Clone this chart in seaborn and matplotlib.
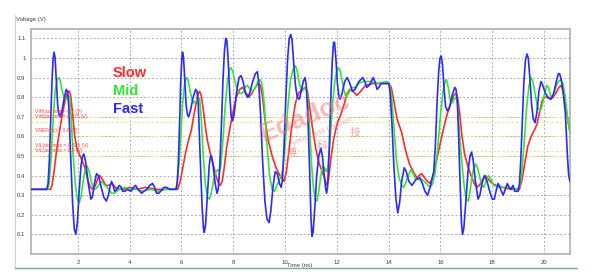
import matplotlib
matplotlib.use("Agg")
import matplotlib.pyplot as plt
import seaborn as sns
import pandas as pd
from matplotlib.lines import Line2D

# ---------------- data: (time ns, voltage V) ----------------
fast_points = [
    (0.2, 0.33), (0.8, 0.33), (0.85, 0.36), (0.9, 0.48), (0.95, 0.68), (1.0, 0.88), (1.04, 0.99),
    (1.08, 1.03), (1.12, 1.0), (1.17, 0.88), (1.22, 0.76), (1.27, 0.71), (1.32, 0.70), (1.4, 0.74),
    (1.48, 0.80), (1.55, 0.84), (1.6, 0.83), (1.65, 0.75), (1.72, 0.50), (1.8, 0.25), (1.86, 0.13),
    (1.92, 0.10), (1.98, 0.16), (2.05, 0.32), (2.12, 0.45), (2.18, 0.50), (2.23, 0.51), (2.3, 0.47),
    (2.4, 0.36), (2.5, 0.28), (2.56, 0.29), (2.64, 0.36), (2.72, 0.41), (2.8, 0.40), (2.9, 0.34),
    (3.0, 0.29), (3.1, 0.27), (3.18, 0.30), (3.25, 0.35), (3.3, 0.37), (3.36, 0.35), (3.42, 0.32),
    (3.5, 0.33), (3.6, 0.35), (3.67, 0.34), (3.73, 0.32), (3.82, 0.32), (3.9, 0.33), (4.05, 0.32),
    (4.15, 0.34), (4.23, 0.35), (4.32, 0.33), (4.46, 0.31), (4.55, 0.32), (4.65, 0.33), (4.78, 0.35),
    (4.88, 0.36), (4.96, 0.34), (5.04, 0.31), (5.12, 0.31), (5.2, 0.32), (5.32, 0.34), (5.42, 0.34),
    (5.55, 0.33), (5.8, 0.33), (5.84, 0.37), (5.88, 0.47), (5.93, 0.68), (5.97, 0.88), (6.01, 0.99),
    (6.04, 1.03), (6.08, 1.0), (6.13, 0.88), (6.18, 0.76), (6.23, 0.71), (6.28, 0.70), (6.36, 0.74),
    (6.45, 0.80), (6.55, 0.84), (6.6, 0.83), (6.65, 0.76), (6.72, 0.50), (6.8, 0.23), (6.85, 0.13),
    (6.88, 0.11), (6.93, 0.15), (7.0, 0.30), (7.07, 0.45), (7.12, 0.50), (7.16, 0.50), (7.22, 0.45),
    (7.3, 0.36), (7.37, 0.31), (7.42, 0.33), (7.48, 0.45), (7.54, 0.65), (7.6, 0.88), (7.66, 1.04),
    (7.71, 1.10), (7.75, 1.09), (7.8, 1.0), (7.86, 0.82), (7.92, 0.70), (7.97, 0.68), (8.03, 0.71),
    (8.12, 0.82), (8.22, 0.90), (8.3, 0.91), (8.38, 0.88), (8.47, 0.82), (8.55, 0.80), (8.63, 0.82),
    (8.75, 0.88), (8.85, 0.92), (8.93, 0.93), (8.98, 0.88), (9.05, 0.72), (9.13, 0.48), (9.22, 0.27),
    (9.3, 0.18), (9.38, 0.16), (9.45, 0.22), (9.53, 0.34), (9.62, 0.42), (9.7, 0.41), (9.78, 0.36),
    (9.85, 0.34), (9.9, 0.38), (9.96, 0.55), (10.03, 0.80), (10.1, 1.0), (10.16, 1.1), (10.22, 1.12),
    (10.27, 1.09), (10.33, 0.98), (10.4, 0.86), (10.47, 0.80), (10.55, 0.79), (10.62, 0.83),
    (10.7, 0.88), (10.77, 0.90), (10.82, 0.86), (10.88, 0.70), (10.95, 0.42), (11.0, 0.18),
    (11.04, 0.09), (11.08, 0.11), (11.15, 0.24), (11.22, 0.40), (11.3, 0.50), (11.38, 0.54),
    (11.44, 0.50), (11.5, 0.42), (11.56, 0.34), (11.6, 0.31), (11.64, 0.34), (11.7, 0.52),
    (11.76, 0.78), (11.82, 0.98), (11.87, 1.08), (11.91, 1.08), (11.96, 1.0), (12.02, 0.87),
    (12.08, 0.80), (12.13, 0.79), (12.2, 0.82), (12.3, 0.88), (12.4, 0.90), (12.5, 0.87), (12.6, 0.83),
    (12.7, 0.84), (12.85, 0.88), (13.0, 0.90), (13.08, 0.88), (13.15, 0.85), (13.25, 0.86), (13.4, 0.90),
    (13.47, 0.88), (13.55, 0.84), (13.62, 0.85), (13.7, 0.87), (13.85, 0.87), (14.0, 0.87), (14.05, 0.83),
    (14.12, 0.68), (14.2, 0.45), (14.28, 0.28), (14.35, 0.21), (14.42, 0.26), (14.5, 0.37), (14.6, 0.44),
    (14.68, 0.42), (14.78, 0.37), (14.9, 0.35), (15.05, 0.38), (15.2, 0.39), (15.3, 0.36), (15.4, 0.32),
    (15.5, 0.30), (15.6, 0.34), (15.68, 0.39), (15.74, 0.42), (15.8, 0.55), (15.87, 0.78), (15.93, 0.93),
    (15.98, 1.0), (16.03, 1.01), (16.08, 0.96), (16.14, 0.84), (16.2, 0.75), (16.27, 0.73), (16.35, 0.75),
    (16.45, 0.81), (16.55, 0.85), (16.6, 0.84), (16.65, 0.78), (16.7, 0.60), (16.76, 0.35), (16.81, 0.16),
    (16.85, 0.10), (16.9, 0.13), (16.98, 0.27), (17.06, 0.42), (17.14, 0.50), (17.2, 0.52), (17.26, 0.48),
    (17.34, 0.38), (17.45, 0.28), (17.52, 0.30), (17.6, 0.36), (17.7, 0.40), (17.8, 0.37), (17.92, 0.31),
    (18.0, 0.28), (18.08, 0.28), (18.16, 0.33), (18.23, 0.36), (18.32, 0.33), (18.42, 0.30), (18.5, 0.33),
    (18.58, 0.36), (18.65, 0.34), (18.72, 0.33), (18.8, 0.35), (18.87, 0.32), (19.0, 0.32), (19.05, 0.36),
    (19.1, 0.48), (19.16, 0.68), (19.22, 0.88), (19.28, 0.99), (19.34, 1.02), (19.39, 1.0), (19.45, 0.90),
    (19.52, 0.76), (19.58, 0.69), (19.65, 0.67), (19.72, 0.72), (19.8, 0.83), (19.88, 0.88), (19.95, 0.86),
    (20.05, 0.82), (20.15, 0.80), (20.27, 0.79), (20.37, 0.82), (20.47, 0.88), (20.55, 0.92), (20.6, 0.92),
    (20.66, 0.89), (20.74, 0.82), (20.82, 0.72), (20.9, 0.50), (20.95, 0.40), (21.0, 0.37),
]

mid_points = [
    (0.2, 0.33), (0.85, 0.33), (0.9, 0.37), (0.97, 0.50), (1.05, 0.70), (1.12, 0.83), (1.2, 0.89),
    (1.27, 0.90), (1.33, 0.88), (1.4, 0.83), (1.48, 0.79), (1.55, 0.79), (1.62, 0.81), (1.68, 0.80),
    (1.74, 0.70), (1.82, 0.50), (1.9, 0.36), (1.98, 0.28), (2.05, 0.26), (2.12, 0.29), (2.2, 0.37),
    (2.28, 0.43), (2.35, 0.45), (2.42, 0.43), (2.5, 0.38), (2.58, 0.34), (2.65, 0.33), (2.75, 0.34),
    (2.85, 0.36), (2.92, 0.37), (3.05, 0.35), (3.2, 0.33), (3.3, 0.31), (3.4, 0.31), (3.5, 0.32),
    (3.6, 0.33), (3.8, 0.34), (4.0, 0.33), (4.3, 0.33), (4.5, 0.32), (4.8, 0.33), (5.1, 0.32),
    (5.4, 0.33), (5.75, 0.33), (5.82, 0.35), (5.9, 0.45), (5.98, 0.62), (6.05, 0.78), (6.12, 0.87),
    (6.19, 0.90), (6.25, 0.89), (6.32, 0.84), (6.4, 0.79), (6.48, 0.77), (6.56, 0.78), (6.65, 0.80),
    (6.7, 0.79), (6.76, 0.70), (6.84, 0.50), (6.92, 0.36), (7.0, 0.29), (7.08, 0.28), (7.15, 0.31),
    (7.25, 0.38), (7.33, 0.42), (7.4, 0.43), (7.47, 0.42), (7.52, 0.45), (7.6, 0.58), (7.68, 0.74),
    (7.77, 0.88), (7.85, 0.94), (7.92, 0.95), (7.98, 0.93), (8.05, 0.89), (8.15, 0.84), (8.25, 0.82),
    (8.35, 0.82), (8.45, 0.85), (8.55, 0.86), (8.65, 0.84), (8.75, 0.83), (8.85, 0.85), (8.95, 0.88),
    (9.05, 0.89), (9.12, 0.86), (9.2, 0.76), (9.3, 0.56), (9.4, 0.40), (9.5, 0.33), (9.58, 0.32),
    (9.65, 0.34), (9.75, 0.37), (9.85, 0.40), (9.92, 0.44), (10.0, 0.55), (10.1, 0.74), (10.2, 0.88),
    (10.3, 0.94), (10.4, 0.96), (10.46, 0.94), (10.55, 0.87), (10.65, 0.83), (10.72, 0.84), (10.8, 0.85),
    (10.86, 0.81), (10.94, 0.66), (11.02, 0.46), (11.1, 0.33), (11.17, 0.28), (11.23, 0.27), (11.3, 0.32),
    (11.38, 0.40), (11.45, 0.45), (11.52, 0.44), (11.6, 0.42), (11.66, 0.45), (11.74, 0.58), (11.83, 0.76),
    (11.92, 0.88), (12.0, 0.94), (12.08, 0.95), (12.15, 0.92), (12.25, 0.85), (12.35, 0.80), (12.45, 0.82),
    (12.58, 0.85), (12.7, 0.85), (12.85, 0.87), (13.0, 0.88), (13.3, 0.88), (13.6, 0.87), (13.9, 0.88),
    (14.02, 0.87), (14.1, 0.82), (14.2, 0.65), (14.3, 0.48), (14.4, 0.39), (14.5, 0.35), (14.58, 0.34),
    (14.65, 0.36), (14.75, 0.40), (14.85, 0.43), (14.95, 0.41), (15.05, 0.38), (15.15, 0.38), (15.3, 0.38),
    (15.45, 0.36), (15.6, 0.34), (15.7, 0.36), (15.8, 0.42), (15.9, 0.55), (16.0, 0.71), (16.1, 0.83),
    (16.18, 0.88), (16.23, 0.89), (16.3, 0.85), (16.38, 0.78), (16.45, 0.77), (16.53, 0.79), (16.6, 0.80),
    (16.66, 0.76), (16.74, 0.60), (16.84, 0.44), (16.93, 0.33), (17.0, 0.28), (17.08, 0.27), (17.15, 0.33),
    (17.25, 0.42), (17.35, 0.46), (17.43, 0.44), (17.52, 0.39), (17.6, 0.35), (17.67, 0.34), (17.75, 0.37),
    (17.85, 0.40), (17.95, 0.38), (18.05, 0.35), (18.3, 0.34), (18.6, 0.34), (18.9, 0.33), (19.05, 0.34),
    (19.13, 0.40), (19.22, 0.55), (19.32, 0.74), (19.42, 0.86), (19.5, 0.90), (19.57, 0.88), (19.66, 0.81),
    (19.75, 0.75), (19.85, 0.73), (19.93, 0.76), (20.02, 0.82), (20.1, 0.86), (20.17, 0.85), (20.27, 0.80),
    (20.35, 0.81), (20.45, 0.85), (20.55, 0.88), (20.65, 0.89), (20.73, 0.87), (20.82, 0.80), (20.9, 0.70),
    (21.0, 0.62),
]

slow_points = [
    (0.2, 0.33), (0.95, 0.33), (1.0, 0.35), (1.08, 0.42), (1.17, 0.52), (1.27, 0.61), (1.37, 0.69),
    (1.47, 0.76), (1.56, 0.81), (1.63, 0.83), (1.68, 0.83), (1.73, 0.80), (1.8, 0.71), (1.88, 0.60),
    (1.96, 0.54), (2.05, 0.51), (2.15, 0.48), (2.27, 0.44), (2.38, 0.38), (2.48, 0.34), (2.58, 0.33),
    (2.68, 0.35), (2.78, 0.39), (2.85, 0.40), (2.95, 0.38), (3.08, 0.35), (3.2, 0.35), (3.32, 0.36),
    (3.45, 0.34), (3.6, 0.33), (3.75, 0.33), (4.0, 0.34), (4.3, 0.33), (4.6, 0.34), (5.0, 0.33),
    (5.4, 0.33), (5.85, 0.33), (5.95, 0.37), (6.05, 0.44), (6.15, 0.51), (6.25, 0.57), (6.38, 0.63),
    (6.48, 0.71), (6.58, 0.78), (6.65, 0.82), (6.7, 0.83), (6.76, 0.81), (6.84, 0.74), (6.92, 0.65),
    (7.0, 0.58), (7.1, 0.52), (7.22, 0.46), (7.33, 0.40), (7.43, 0.36), (7.5, 0.35), (7.57, 0.37),
    (7.65, 0.44), (7.75, 0.55), (7.88, 0.65), (8.0, 0.73), (8.12, 0.80), (8.25, 0.84), (8.35, 0.85),
    (8.45, 0.83), (8.6, 0.80), (8.72, 0.82), (8.85, 0.85), (8.98, 0.87), (9.05, 0.86), (9.13, 0.80),
    (9.22, 0.69), (9.35, 0.58), (9.5, 0.50), (9.65, 0.44), (9.8, 0.40), (9.96, 0.37), (10.05, 0.42),
    (10.15, 0.53), (10.27, 0.66), (10.4, 0.77), (10.52, 0.82), (10.65, 0.84), (10.78, 0.85), (10.86, 0.83),
    (10.95, 0.75), (11.05, 0.65), (11.18, 0.54), (11.32, 0.46), (11.46, 0.41), (11.56, 0.37), (11.62, 0.35),
    (11.68, 0.38), (11.76, 0.48), (11.88, 0.59), (12.02, 0.67), (12.15, 0.71), (12.27, 0.76), (12.4, 0.82),
    (12.5, 0.84), (12.62, 0.83), (12.77, 0.81), (12.92, 0.83), (13.1, 0.86), (13.4, 0.87), (13.7, 0.87),
    (14.0, 0.87), (14.1, 0.85), (14.2, 0.78), (14.32, 0.69), (14.5, 0.62), (14.65, 0.53), (14.8, 0.46),
    (14.95, 0.42), (15.08, 0.39), (15.18, 0.40), (15.27, 0.41), (15.38, 0.39), (15.5, 0.37), (15.6, 0.36),
    (15.7, 0.39), (15.82, 0.46), (15.95, 0.54), (16.1, 0.63), (16.25, 0.71), (16.4, 0.77), (16.52, 0.81),
    (16.6, 0.82), (16.66, 0.80), (16.74, 0.72), (16.82, 0.61), (16.93, 0.51), (17.05, 0.45), (17.18, 0.40),
    (17.3, 0.36), (17.4, 0.34), (17.5, 0.35), (17.62, 0.38), (17.73, 0.40), (17.85, 0.38), (18.0, 0.36),
    (18.15, 0.35), (18.4, 0.34), (18.7, 0.33), (19.05, 0.33), (19.15, 0.38), (19.25, 0.46), (19.37, 0.55),
    (19.5, 0.60), (19.62, 0.63), (19.72, 0.66), (19.82, 0.72), (19.92, 0.78), (20.0, 0.80), (20.1, 0.80),
    (20.25, 0.79), (20.35, 0.80), (20.45, 0.82), (20.57, 0.85), (20.65, 0.86), (20.72, 0.84), (20.82, 0.77),
    (20.92, 0.68), (21.0, 0.62),
]

series_names = ["Slow", "Mid", "Fast"]
series_colors = ["#ff2a2a", "#33e633", "#2a2aff"]

ref_levels = [0.7, 0.675, 0.6, 0.525, 0.5]
ref_labels = ["VIH(ac) min = 0.7 (V)", "VIH(dc) min = 0.675 (V)", "VREF(dc) = 0.6 (V)",
              "VIL(dc) max = 0.525 (V)", "VIL(ac) max = 0.5 (V)"]

y_ticks = [0.1, 0.2, 0.3, 0.4, 0.5, 0.6, 0.7, 0.8, 0.9, 1.0, 1.1]
y_ticklabels = ["0.1", "0.2", "0.3", "0.4", "0.5", "0.6", "0.7", "0.8", "0.9", "1", "1.1"]
x_ticks = [2, 4, 6, 8, 10, 12, 14, 16, 18, 20]

# ---------------- figure ----------------
sns.set_style("white")
plt.rcParams["font.family"] = ["Liberation Sans", "DejaVu Sans"]

W, H = 593, 280
fig = plt.figure(figsize=(W / 100, H / 100), dpi=100)
ax = fig.add_axes([31 / W, 1 - 254 / H, (570 - 31) / W, (254 - 29) / H])

# grid
for yv in y_ticks:
    ax.axhline(yv, color="#ababab", lw=0.7, ls=(0, (2, 2)), zorder=1)
for xv in x_ticks:
    ax.axvline(xv, color="#ababab", lw=0.7, ls=(0, (2, 2)), zorder=1)
# reference levels
for lv in ref_levels:
    ax.axhline(lv, color="#e6e68a", lw=0.8, ls=(0, (2, 2)), zorder=1.5)

series_points = [slow_points, mid_points, fast_points]
for pts, c in zip(series_points, series_colors):
    df = pd.DataFrame(pts, columns=["t", "v"])
    sns.lineplot(data=df, x="t", y="v", color=c, lw=1.2, ax=ax, zorder=3,
                 solid_joinstyle="round", solid_capstyle="round")

ax.set_xlim(0.19, 21.0)
ax.set_ylim(0.0, 1.148)
ax.set_xticks(x_ticks)
ax.set_xticklabels([str(x) for x in x_ticks])
ax.set_yticks(y_ticks)
ax.set_yticklabels(y_ticklabels)
ax.tick_params(axis="both", labelsize=4.3, colors="#404040", length=2, width=0.5, pad=2)
ax.set_xlabel("")
ax.set_ylabel("")
for s in ax.spines.values():
    s.set_color("#b4b4b4")
    s.set_linewidth(1.3)

# reference-level labels
label_y = [0.715, 0.69, 0.617, 0.541, 0.516]
for lab, ly in zip(ref_labels, label_y):
    ax.text(0.35, ly, lab, color="#ff4040", fontsize=3.6, va="bottom", ha="left", zorder=4)

# series legend words
for name, c, yy in zip(series_names, series_colors, [73, 91, 109]):
    fig.text(113 / W, 1 - yy / H, name, color=c, fontsize=10.5, fontweight="bold",
             va="center", ha="left")

# axis titles
fig.text(16 / W, 1 - 19 / H, "Voltage (V)", fontsize=4.3, color="#404040", va="center", ha="left")
fig.text(300 / W, 1 - 265 / H, "Time (ns)", fontsize=4.3, color="#404040", va="center", ha="center")

# watermark
fig.text(305 / W, 1 - 118 / H, "Edadoc", fontsize=19, fontweight="bold", color="#f07878",
         alpha=0.5, rotation=22, ha="center", va="center", zorder=5)
fig.text(322 / W, 1 - 132 / H, "your best partner", fontsize=6, color="#f07878",
         alpha=0.6, rotation=22, ha="center", va="center", zorder=5)
for ch, (px, py) in zip(["博", "科", "技"], [(291, 153), (322, 146), (355, 133)]):
    fig.text(px / W, 1 - py / H, ch, fontsize=8, color="#f07878", alpha=0.65,
             family=["Noto Sans CJK SC", "DejaVu Sans"], ha="center", va="center", zorder=5)

# outer frame lines of the screenshot
fig.add_artist(Line2D([15 / W, 15 / W], [1 - 15 / H, 1 - 268 / H], color="#c8d4dc", lw=0.8))
fig.add_artist(Line2D([15 / W, 577 / W], [1 - 268 / H, 1 - 268 / H], color="#7fa6ad", lw=1.0))

fig.savefig("out.png", dpi=100)
